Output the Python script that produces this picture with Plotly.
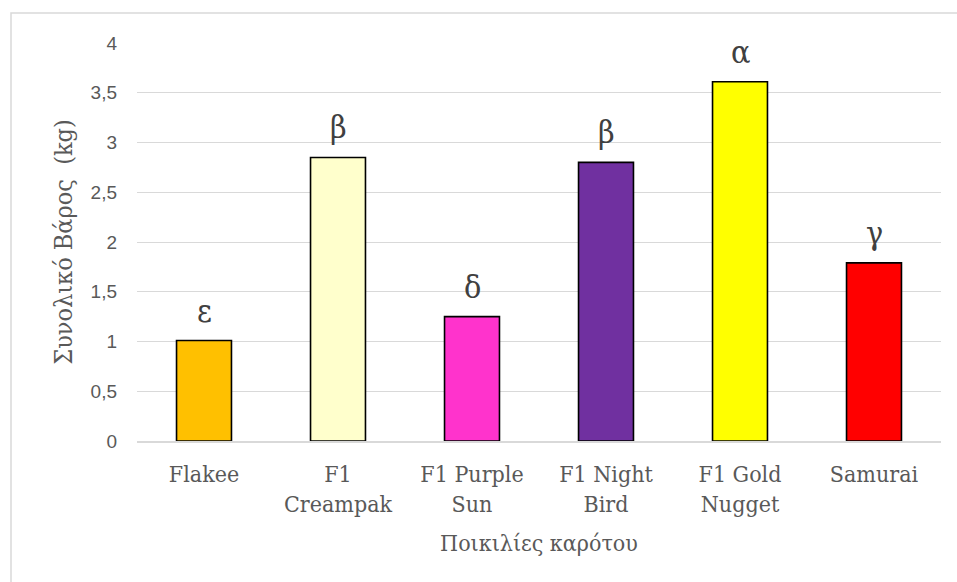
import plotly.graph_objects as go

categories = ["Flakee", "F1<br>Creampak", "F1 Purple<br>Sun", "F1 Night<br>Bird", "F1 Gold<br>Nugget", "Samurai"]
values = [1.01, 2.85, 1.25, 2.80, 3.61, 1.79]
letters = ["ε", "β", "δ", "β", "α", "γ"]
colors = ["#FFC000", "#FFFFCC", "#FF33CC", "#7030A0", "#FFFF00", "#FF0000"]
y_ticks = [0, 0.5, 1, 1.5, 2, 2.5, 3, 3.5, 4]

SERIF = "DejaVu Serif Condensed, DejaVu Serif"
SANS = "Liberation Sans"

W, H = 957, 582
L, R, T, B = 137, 16, 43, 141

fig = go.Figure()
fig.add_trace(go.Bar(
    x=categories, y=values,
    marker=dict(color=colors, line=dict(color="#000000", width=1.6)),
    width=0.41,
    hoverinfo="skip",
))

for c, v, s in zip(categories, values, letters):
    fig.add_annotation(x=c, y=v, text=s, showarrow=False, yanchor="bottom",
                       yshift=9, font=dict(family=SERIF, size=32, color="#404040"))

pw = W - L - R
ph = H - T - B
fig.add_shape(type="rect", xref="paper", yref="paper",
              x0=(11 - L) / pw, x1=(W + 20 - L) / pw,
              y0=-(H + 20 - T - ph) / ph, y1=(T + ph - 13) / ph,
              line=dict(color="#D9D9D9", width=1.5), fillcolor="rgba(0,0,0,0)", layer="below")

fig.update_layout(
    width=W, height=H,
    margin=dict(l=L, r=R, t=T, b=B),
    paper_bgcolor="white", plot_bgcolor="white",
    separators=",.",
    showlegend=False,
    xaxis=dict(
        tickfont=dict(family=SERIF, size=23, color="#595959"),
        ticklabelstandoff=12,
        title=dict(text="Ποικιλίες καρότου", standoff=19,
                   font=dict(family=SERIF, size=23, color="#595959")),
        showline=True, linecolor="#D9D9D9", linewidth=1.5,
        ticks="", showgrid=False,
    ),
    yaxis=dict(
        range=[0, 4], tickvals=y_ticks,
        tickfont=dict(family=SANS, size=19, color="#595959"),
        ticklabelstandoff=19,
        title=dict(text="Συνολικό Βάρος  (kg)", standoff=10,
                   font=dict(family=SERIF, size=25, color="#595959")),
        showgrid=True, gridcolor="#D9D9D9", gridwidth=1.3,
        zeroline=False, showline=False, ticks="",
    ),
)

fig.write_html("out.html")
